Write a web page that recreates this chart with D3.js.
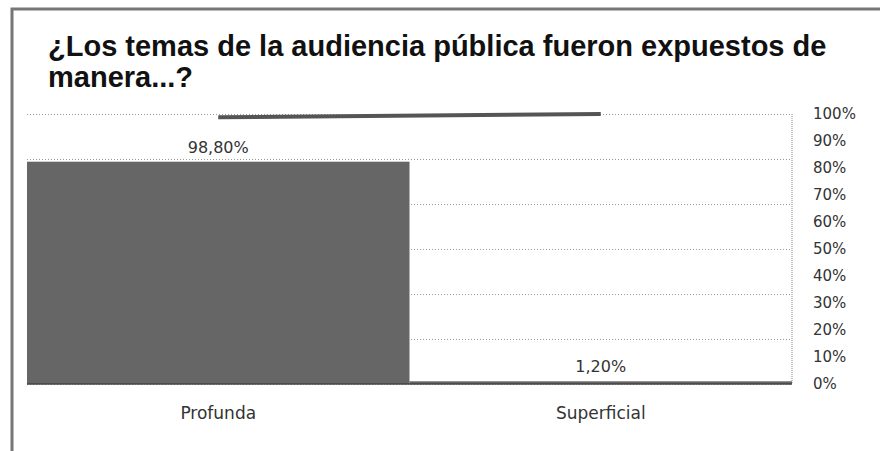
<!DOCTYPE html>
<html>
<head>
<meta charset="utf-8">
<script src="https://cdn.jsdelivr.net/npm/d3@7"></script>
<style>
  body { margin: 0; background: #fff; }
  #chart { width: 880px; height: 451px; }
  .grid-line line { stroke: #9a9a9a; stroke-dasharray: 1,2; }
  text { font-family: "DejaVu Sans", sans-serif; fill: #333; }
</style>
</head>
<body>
<div id="chart"></div>
<script>
document.addEventListener('DOMContentLoaded', function() {

    const titleLines = ["¿Los temas de la audiencia pública fueron expuestos de", "manera...?"];
    const categories = ["Profunda", "Superficial"];
    const values = [98.8, 1.2];
    const cumulative = [98.8, 100];
    const barLabels = ["98,80%", "1,20%"];
    const rightTicks = [0, 10, 20, 30, 40, 50, 60, 70, 80, 90, 100];
    const gridTicks = [0, 20, 40, 60, 80, 100, 120];

    const W = 880, H = 451;
    const margin = { top: 114, right: 88, bottom: 67, left: 27 };
    const width = W - margin.left - margin.right;
    const height = H - margin.top - margin.bottom;

    const root = d3.select("#chart").append("svg")
        .attr("width", W)
        .attr("height", H);

    // scanned frame
    root.append("rect")
        .attr("x", 12).attr("y", 9)
        .attr("width", W + 20).attr("height", H + 20)
        .attr("fill", "none")
        .attr("stroke", "#777")
        .attr("stroke-width", 3);

    root.append("text")
        .attr("x", 48).attr("y", 56)
        .style("font-family", "'Liberation Sans', Arial, sans-serif")
        .style("font-weight", "bold")
        .style("font-size", "29px")
        .style("fill", "#111")
        .selectAll("tspan")
        .data(titleLines)
        .join("tspan")
        .attr("x", 48)
        .attr("dy", (d, i) => i === 0 ? 0 : 31)
        .text(d => d);

    const svg = root.append("g")
        .attr("transform", `translate(${margin.left},${margin.top})`);

    const xScale = d3.scaleBand()
        .domain(categories)
        .range([0, width])
        .padding(0);

    // bars sit on a hidden 0-120 scale, the visible axis runs 0-100%
    const yBar = d3.scaleLinear().domain([0, 120]).range([height, 0]);
    const yPct = d3.scaleLinear().domain([0, 100]).range([height, 0]);

    const gridLines = d3.axisLeft(yBar)
        .tickValues(gridTicks)
        .tickSize(-width)
        .tickFormat("");
    svg.append("g")
        .attr("class", "grid-line")
        .call(gridLines)
        .select(".domain").remove();

    svg.append("line")
        .attr("x1", width).attr("x2", width)
        .attr("y1", 0).attr("y2", height)
        .attr("stroke", "#888")
        .attr("stroke-dasharray", "1,1");

    svg.selectAll(".bar")
        .data(values)
        .join("rect")
        .attr("class", "bar")
        .attr("x", (d, i) => xScale(categories[i]))
        .attr("width", xScale.bandwidth())
        .attr("y", d => yBar(d))
        .attr("height", d => height - yBar(d))
        .attr("fill", "#666");

    svg.append("line")
        .attr("x1", 0).attr("x2", width)
        .attr("y1", height).attr("y2", height)
        .attr("stroke", "#444")
        .attr("stroke-width", 1.5);

    svg.selectAll(".bar-label")
        .data(values)
        .join("text")
        .attr("class", "bar-label")
        .attr("x", (d, i) => xScale(categories[i]) + xScale.bandwidth() / 2)
        .attr("y", d => yBar(d) - 9)
        .attr("text-anchor", "middle")
        .style("font-size", "16px")
        .text((d, i) => barLabels[i]);

    const line = d3.line()
        .x((d, i) => xScale(categories[i]) + xScale.bandwidth() / 2)
        .y(d => yPct(d));
    svg.append("path")
        .datum(cumulative)
        .attr("fill", "none")
        .attr("stroke", "#555")
        .attr("stroke-width", 4)
        .attr("d", line);

    const yAxis = d3.axisRight(yPct)
        .tickValues(rightTicks)
        .tickSize(0)
        .tickPadding(21)
        .tickFormat(d => d + "%");
    svg.append("g")
        .attr("transform", `translate(${width},0)`)
        .call(yAxis)
        .call(g => g.select(".domain").remove())
        .selectAll("text")
        .style("font-family", "'DejaVu Sans', sans-serif")
        .style("font-size", "15px")
        .style("fill", "#333");

    const xAxis = d3.axisBottom(xScale).tickSize(0).tickPadding(23);
    svg.append("g")
        .attr("transform", `translate(0,${height})`)
        .call(xAxis)
        .call(g => g.select(".domain").remove())
        .selectAll("text")
        .style("font-family", "'DejaVu Sans', sans-serif")
        .style("font-size", "17px")
        .style("fill", "#333");
});
</script>
</body>
</html>
